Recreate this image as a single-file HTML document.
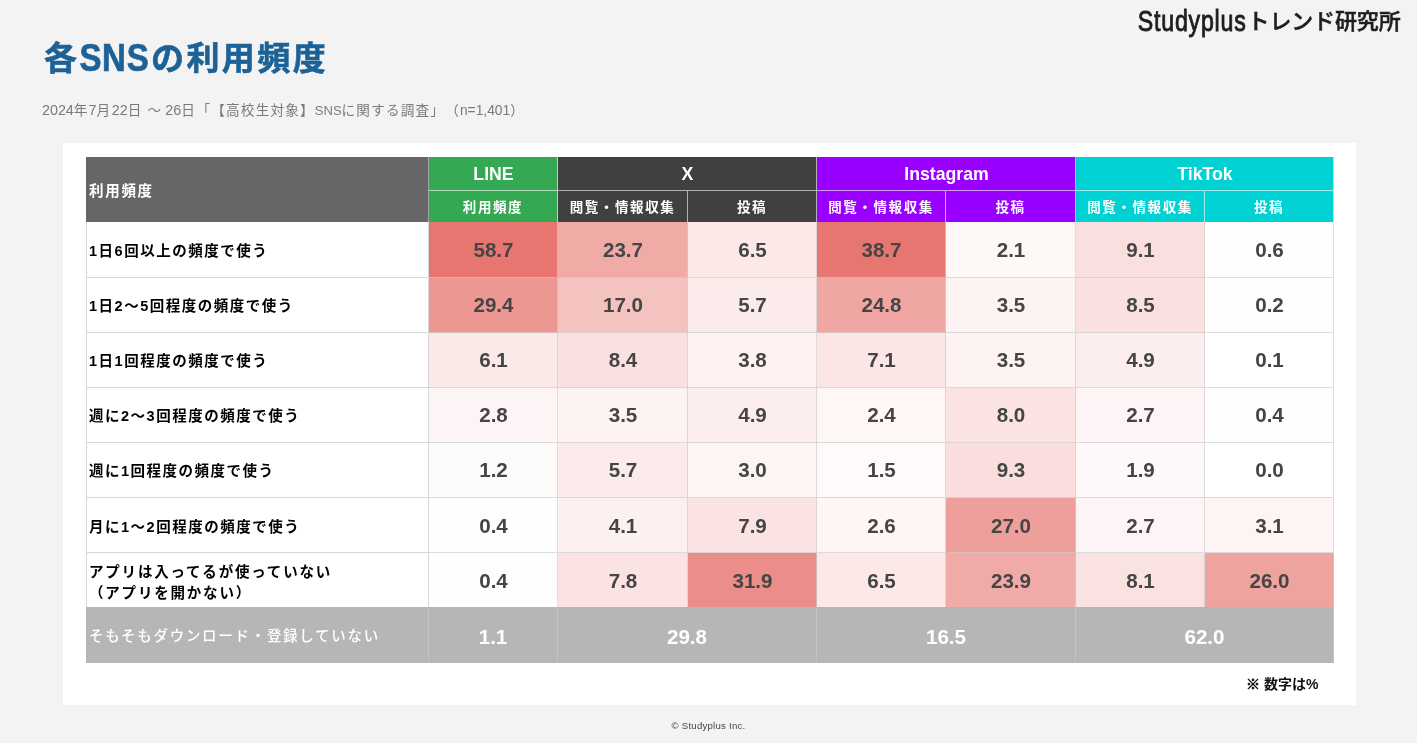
<!DOCTYPE html>
<html lang="ja"><head><meta charset="utf-8"><title>各SNSの利用頻度</title>
<style>
html,body{margin:0;padding:0;}
html{background:#f3f3f3;}
#pg{position:absolute;left:0;top:0;width:1417px;height:745px;filter:blur(0.45px);}
body{text-spacing-trim:space-all;width:1417px;height:745px;background:#f3f3f3;position:relative;overflow:hidden;font-family:"Liberation Sans","Noto Sans CJK JP",sans-serif;}
.abs{position:absolute;}
.card{left:63px;top:143px;width:1293px;height:562px;background:#fff;}
.logo{right:17px;top:4px;height:34px;line-height:34px;white-space:nowrap;color:#1e1e1e;font-size:29.5px;}
.logo .en{display:inline-block;transform:scaleX(0.785);letter-spacing:1px;transform-origin:right center;position:relative;top:0px;font-weight:normal;-webkit-text-stroke:0.9px #1e1e1e;margin-right:0px;}
.logo .jp{font-size:22px;font-weight:500;-webkit-text-stroke:0.5px #1e1e1e;letter-spacing:-0.15px;position:relative;top:-2.2px;left:0.5px}
h1{margin:0;left:44px;top:37px;font-size:33px;line-height:44px;font-weight:bold;color:#1c6297;-webkit-text-stroke:0.6px #1c6297;letter-spacing:2.4px;white-space:nowrap;}
h1 span{display:inline-block;letter-spacing:0.7px;margin-right:1.7px;transform:scaleY(1.15);transform-origin:50% 60%;}
.sub{left:42px;top:101px;font-size:13.6px;line-height:18px;color:#7a7a7a;white-space:nowrap;letter-spacing:1.2px;}
.sub span{font-size:14.3px;letter-spacing:0;}
.sub .s1{font-size:13px;}
.sub .s2{font-size:13.8px;}
.c{position:absolute;box-sizing:border-box;display:flex;align-items:center;justify-content:center;white-space:nowrap;}
.h{color:#fff;font-weight:bold;border-right:1px solid rgba(255,255,255,.6);border-bottom:1px solid rgba(255,255,255,.6);}
.h1{font-size:17.7px;padding-top:2px;padding-left:1px;}
.h2{font-size:13.5px;letter-spacing:1.6px;padding-top:0px;}
.lab{justify-content:flex-start;padding-left:2px;padding-top:5px;font-weight:bold;font-size:14.5px;letter-spacing:1.5px;color:#000;background:#fff;border:1px solid #d6d6d6;border-top:none;line-height:21px;}
.v{font-weight:bold;font-size:20.6px;color:#454545;border-right:1px solid rgba(205,205,205,.7);border-bottom:1px solid rgba(205,205,205,.7);padding-top:2px;padding-left:1px;}
.g{background:#b6b6b6;color:#fff;font-weight:bold;font-size:20.6px;border-right:1px solid #c2c2c2;padding-top:4px;}
.note{left:1246px;top:675px;font-size:14px;font-weight:bold;color:#111;line-height:18px;white-space:nowrap;}
.foot{left:0;width:1417px;top:720.3px;text-align:center;font-size:9.6px;letter-spacing:0.25px;color:#444;line-height:12px;}
.bot{left:0;top:743px;width:1417px;height:2px;background:#fff;}
</style></head><body>
<div id="pg">
<div class="abs logo"><span class="en">Studyplus</span><span class="jp">トレンド研究所</span></div>
<h1 class="abs">各<span>SNS</span>の利用頻度</h1>
<div class="abs sub"><span>2024</span>年<span>7</span>月<span style="margin-left:-3.5px"> 22</span>日 ～ <span style="margin-left:-2px">26</span>日<span style="margin-left:0.5px"></span>「【高校生対象】<span class="s1">SNS</span>に関する調査」（<span class="s2">n=1,401</span>）</div>
<div class="abs card"></div>
<div class="c h h2" style="left:86px;top:157px;width:343px;height:65px;background:#666;justify-content:flex-start;padding-left:3px;padding-top:0;font-size:14.5px;letter-spacing:1.7px;border-right:1px solid rgba(255,255,255,.4);border-bottom:none;">利用頻度</div>
<div class="c h h1" style="left:429px;top:157px;width:129px;height:34px;background:#34a853;">LINE</div>
<div class="c h h2" style="left:429px;top:191px;width:129px;height:31px;background:#34a853;border-bottom:none;padding-bottom:1px;">利用頻度</div>
<div class="c h h1" style="left:558px;top:157px;width:259px;height:34px;background:#404040;">X</div>
<div class="c h h2" style="left:558px;top:191px;width:130px;height:31px;background:#404040;border-bottom:none;padding-bottom:1px;">閲覧・情報収集</div>
<div class="c h h2" style="left:688px;top:191px;width:129px;height:31px;background:#404040;border-bottom:none;padding-bottom:1px;">投稿</div>
<div class="c h h1" style="left:817px;top:157px;width:259px;height:34px;background:#9900ff;">Instagram</div>
<div class="c h h2" style="left:817px;top:191px;width:129px;height:31px;background:#9900ff;border-bottom:none;padding-bottom:1px;">閲覧・情報収集</div>
<div class="c h h2" style="left:946px;top:191px;width:130px;height:31px;background:#9900ff;border-bottom:none;padding-bottom:1px;">投稿</div>
<div class="c h h1" style="left:1076px;top:157px;width:258px;height:34px;background:#00d2d3;">TikTok</div>
<div class="c h h2" style="left:1076px;top:191px;width:129px;height:31px;background:#00d2d3;border-bottom:none;padding-bottom:1px;">閲覧・情報収集</div>
<div class="c h h2" style="left:1205px;top:191px;width:129px;height:31px;background:#00d2d3;border-bottom:none;padding-bottom:1px;">投稿</div>
<div class="c lab" style="left:86px;top:222px;width:343px;height:56px;white-space:normal;padding-top:4px;"><span>1日6回以上の頻度で使う</span></div>
<div class="c v" style="left:429px;top:222px;width:129px;height:56px;background:rgb(231,118,112);padding-top:1px;">58.7</div>
<div class="c v" style="left:558px;top:222px;width:130px;height:56px;background:rgb(240,171,167);padding-top:1px;">23.7</div>
<div class="c v" style="left:688px;top:222px;width:129px;height:56px;background:rgb(251,232,231);padding-top:1px;">6.5</div>
<div class="c v" style="left:817px;top:222px;width:129px;height:56px;background:rgb(231,118,112);padding-top:1px;">38.7</div>
<div class="c v" style="left:946px;top:222px;width:130px;height:56px;background:rgb(254,248,247);padding-top:1px;">2.1</div>
<div class="c v" style="left:1076px;top:222px;width:129px;height:56px;background:rgb(249,223,221);padding-top:1px;">9.1</div>
<div class="c v" style="left:1205px;top:222px;width:129px;height:56px;background:rgb(255,253,253);padding-top:1px;">0.6</div>
<div class="c lab" style="left:86px;top:278px;width:343px;height:55px;white-space:normal;padding-top:3px;"><span>1日2～5回程度の頻度で使う</span></div>
<div class="c v" style="left:429px;top:278px;width:129px;height:55px;background:rgb(237,151,146);padding-top:0px;">29.4</div>
<div class="c v" style="left:558px;top:278px;width:130px;height:55px;background:rgb(244,195,192);padding-top:0px;">17.0</div>
<div class="c v" style="left:688px;top:278px;width:129px;height:55px;background:rgb(251,235,234);padding-top:0px;">5.7</div>
<div class="c v" style="left:817px;top:278px;width:129px;height:55px;background:rgb(240,167,163);padding-top:0px;">24.8</div>
<div class="c v" style="left:946px;top:278px;width:130px;height:55px;background:rgb(253,243,242);padding-top:0px;">3.5</div>
<div class="c v" style="left:1076px;top:278px;width:129px;height:55px;background:rgb(250,225,224);padding-top:0px;">8.5</div>
<div class="c v" style="left:1205px;top:278px;width:129px;height:55px;background:rgb(255,254,254);padding-top:0px;">0.2</div>
<div class="c lab" style="left:86px;top:333px;width:343px;height:55px;white-space:normal;padding-top:3px;"><span>1日1回程度の頻度で使う</span></div>
<div class="c v" style="left:429px;top:333px;width:129px;height:55px;background:rgb(251,233,232);padding-top:0px;">6.1</div>
<div class="c v" style="left:558px;top:333px;width:130px;height:55px;background:rgb(250,225,224);padding-top:0px;">8.4</div>
<div class="c v" style="left:688px;top:333px;width:129px;height:55px;background:rgb(253,242,241);padding-top:0px;">3.8</div>
<div class="c v" style="left:817px;top:333px;width:129px;height:55px;background:rgb(251,230,229);padding-top:0px;">7.1</div>
<div class="c v" style="left:946px;top:333px;width:130px;height:55px;background:rgb(253,243,242);padding-top:0px;">3.5</div>
<div class="c v" style="left:1076px;top:333px;width:129px;height:55px;background:rgb(252,238,237);padding-top:0px;">4.9</div>
<div class="c v" style="left:1205px;top:333px;width:129px;height:55px;background:rgb(255,255,255);padding-top:0px;">0.1</div>
<div class="c lab" style="left:86px;top:388px;width:343px;height:55px;white-space:normal;padding-top:2px;"><span>週に2～3回程度の頻度で使う</span></div>
<div class="c v" style="left:429px;top:388px;width:129px;height:55px;background:rgb(253,245,245);padding-top:0;padding-bottom:1px;">2.8</div>
<div class="c v" style="left:558px;top:388px;width:130px;height:55px;background:rgb(253,243,242);padding-top:0;padding-bottom:1px;">3.5</div>
<div class="c v" style="left:688px;top:388px;width:129px;height:55px;background:rgb(252,238,237);padding-top:0;padding-bottom:1px;">4.9</div>
<div class="c v" style="left:817px;top:388px;width:129px;height:55px;background:rgb(254,247,246);padding-top:0;padding-bottom:1px;">2.4</div>
<div class="c v" style="left:946px;top:388px;width:130px;height:55px;background:rgb(250,227,225);padding-top:0;padding-bottom:1px;">8.0</div>
<div class="c v" style="left:1076px;top:388px;width:129px;height:55px;background:rgb(253,245,245);padding-top:0;padding-bottom:1px;">2.7</div>
<div class="c v" style="left:1205px;top:388px;width:129px;height:55px;background:rgb(255,254,254);padding-top:0;padding-bottom:1px;">0.4</div>
<div class="c lab" style="left:86px;top:443px;width:343px;height:55px;white-space:normal;padding-top:3px;"><span>週に1回程度の頻度で使う</span></div>
<div class="c v" style="left:429px;top:443px;width:129px;height:55px;background:rgb(254,251,251);padding-top:0px;">1.2</div>
<div class="c v" style="left:558px;top:443px;width:130px;height:55px;background:rgb(251,235,234);padding-top:0px;">5.7</div>
<div class="c v" style="left:688px;top:443px;width:129px;height:55px;background:rgb(253,244,244);padding-top:0px;">3.0</div>
<div class="c v" style="left:817px;top:443px;width:129px;height:55px;background:rgb(254,250,249);padding-top:0px;">1.5</div>
<div class="c v" style="left:946px;top:443px;width:130px;height:55px;background:rgb(249,222,221);padding-top:0px;">9.3</div>
<div class="c v" style="left:1076px;top:443px;width:129px;height:55px;background:rgb(254,248,248);padding-top:0px;">1.9</div>
<div class="c v" style="left:1205px;top:443px;width:129px;height:55px;background:rgb(255,255,255);padding-top:0px;">0.0</div>
<div class="c lab" style="left:86px;top:498px;width:343px;height:55px;white-space:normal;"><span>月に1～2回程度の頻度で使う</span></div>
<div class="c v" style="left:429px;top:498px;width:129px;height:55px;background:rgb(255,254,254);">0.4</div>
<div class="c v" style="left:558px;top:498px;width:130px;height:55px;background:rgb(252,240,240);">4.1</div>
<div class="c v" style="left:688px;top:498px;width:129px;height:55px;background:rgb(250,227,226);">7.9</div>
<div class="c v" style="left:817px;top:498px;width:129px;height:55px;background:rgb(253,246,245);">2.6</div>
<div class="c v" style="left:946px;top:498px;width:130px;height:55px;background:rgb(238,159,155);">27.0</div>
<div class="c v" style="left:1076px;top:498px;width:129px;height:55px;background:rgb(253,245,245);">2.7</div>
<div class="c v" style="left:1205px;top:498px;width:129px;height:55px;background:rgb(253,244,244);">3.1</div>
<div class="c lab" style="left:86px;top:553px;width:343px;height:54px;white-space:normal;letter-spacing:1.8px;border-bottom:none;"><span>アプリは入ってるが使っていない<br>（アプリを開かない）</span></div>
<div class="c v" style="left:429px;top:553px;width:129px;height:54px;background:rgb(255,254,254);border-bottom:none;">0.4</div>
<div class="c v" style="left:558px;top:553px;width:130px;height:54px;background:rgb(250,227,226);border-bottom:none;">7.8</div>
<div class="c v" style="left:688px;top:553px;width:129px;height:54px;background:rgb(235,142,137);border-bottom:none;">31.9</div>
<div class="c v" style="left:817px;top:553px;width:129px;height:54px;background:rgb(251,232,231);border-bottom:none;">6.5</div>
<div class="c v" style="left:946px;top:553px;width:130px;height:54px;background:rgb(240,170,167);border-bottom:none;">23.9</div>
<div class="c v" style="left:1076px;top:553px;width:129px;height:54px;background:rgb(250,226,225);border-bottom:none;">8.1</div>
<div class="c v" style="left:1205px;top:553px;width:129px;height:54px;background:rgb(239,163,159);border-bottom:none;">26.0</div>
<div class="c g" style="left:86px;top:607px;width:343px;height:56px;justify-content:flex-start;padding-left:3px;padding-top:0;padding-bottom:1px;font-size:14.5px;letter-spacing:1.7px;font-weight:500;">そもそもダウンロード・登録していない</div>
<div class="c g" style="left:429px;top:607px;width:129px;height:56px;">1.1</div>
<div class="c g" style="left:558px;top:607px;width:259px;height:56px;">29.8</div>
<div class="c g" style="left:817px;top:607px;width:259px;height:56px;">16.5</div>
<div class="c g" style="left:1076px;top:607px;width:258px;height:56px;">62.0</div>
<div class="abs note"><span style="-webkit-text-stroke:0.7px #111">※</span> 数字は%</div>
<div class="abs foot">© Studyplus Inc.</div>
<div class="abs bot"></div>
</div>
</body></html>
